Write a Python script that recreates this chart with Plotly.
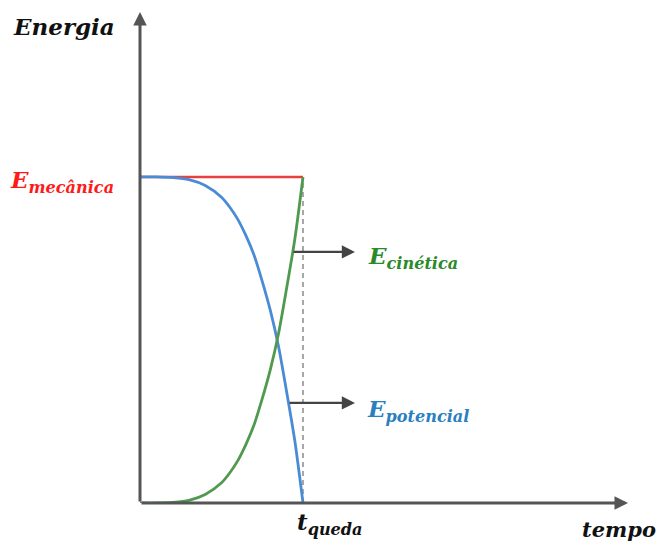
import plotly.graph_objects as go

# time, normalised so that t_queda = 1
t = [0.0, 0.1, 0.2, 0.3, 0.4, 0.5, 0.55, 0.6, 0.65, 0.7, 0.75, 0.8, 0.85, 0.9, 0.95, 1.0]
# kinetic energy (fraction of mechanical energy)
e_kin = [0.0, 0.0, 0.002, 0.008, 0.026, 0.062, 0.092, 0.13, 0.18, 0.24, 0.32, 0.41, 0.52, 0.66, 0.81, 1.0]
# potential energy
e_pot = [1.0, 1.0, 0.998, 0.992, 0.974, 0.938, 0.908, 0.87, 0.82, 0.76, 0.68, 0.59, 0.48, 0.34, 0.19, 0.0]
# mechanical energy
t_mec = [0.0, 1.0]
e_mec = [1.0, 1.0]

x_max = 2.994
y_max = 1.506

RED = "#e8403f"
BLUE = "#4a8bd6"
GREEN = "#4f9a4f"
AXIS = "#555555"
FONT = "DejaVu Serif"

fig = go.Figure()
# dashed vertical line at t_queda
fig.add_trace(go.Scatter(x=[1.0, 1.0], y=[0.0, 1.0], mode="lines",
                         line=dict(color="#777777", width=1.3, dash="5px,4px"),
                         hoverinfo="skip"))
fig.add_trace(go.Scatter(x=t_mec, y=e_mec, mode="lines",
                         line=dict(color=RED, width=2.5), hoverinfo="skip"))
fig.add_trace(go.Scatter(x=t, y=e_pot, mode="lines", line_shape="spline",
                         line=dict(color=BLUE, width=2.8, smoothing=0.8), hoverinfo="skip"))
fig.add_trace(go.Scatter(x=t, y=e_kin, mode="lines", line_shape="spline",
                         line=dict(color=GREEN, width=2.8, smoothing=0.8), hoverinfo="skip"))

ann = []
# axes with arrows
ann.append(dict(x=0, y=y_max, ax=0, ay=0, xref="x", yref="y", axref="x", ayref="y",
                showarrow=True, arrowhead=2, arrowsize=0.9, arrowwidth=3, arrowcolor=AXIS, text=""))
ann.append(dict(x=x_max, y=0, ax=0, ay=0, xref="x", yref="y", axref="x", ayref="y",
                showarrow=True, arrowhead=2, arrowsize=0.9, arrowwidth=3, arrowcolor=AXIS, text=""))
# pointer arrows
ann.append(dict(x=1.319, y=0.770, ax=0.933, ay=0.770, xref="x", yref="y", axref="x", ayref="y",
                showarrow=True, arrowhead=2, arrowsize=1.2, arrowwidth=2.2, arrowcolor="#444444", text=""))
ann.append(dict(x=1.319, y=0.307, ax=0.908, ay=0.307, xref="x", yref="y", axref="x", ayref="y",
                showarrow=True, arrowhead=2, arrowsize=1.2, arrowwidth=2.2, arrowcolor="#444444", text=""))

def lab(x, y, text, color, size, xanchor="left"):
    # positions given in data units, placed in paper coordinates so that
    # labels outside the axis ranges are still drawn
    ann.append(dict(x=x / x_max, y=y / y_max, xref="paper", yref="paper", text=text,
                    showarrow=False, xanchor=xanchor, yanchor="middle",
                    font=dict(family=FONT, size=size, color=color)))

lab(-0.790, 1.462, "<b><i>Energia</i></b>", "#111111", 23)
lab(-0.810, 0.985, "<b><i>E<sub>mecânica</sub></i></b>", "#ff1a1a", 23)
lab(1.385, 0.752, "<b><i>E<sub>cinética</sub></i></b>", "#2a8a2a", 23)
lab(1.380, 0.285, "<b><i>E<sub>potencial</sub></i></b>", "#2a7fbf", 23)
lab(0.950, -0.062, "<b><i>t<sub>queda</sub></i></b>", "#111111", 23)
lab(2.700, -0.080, "<b><i>tempo</i></b>", "#111111", 21)

fig.update_layout(
    width=669, height=541,
    # the page body adds 8px on the top/left; compensate so the plot area
    # lands where the reference has it
    margin=dict(l=132, r=49, t=4, b=46),
    plot_bgcolor="white", paper_bgcolor="white",
    showlegend=False,
    annotations=ann,
    xaxis=dict(range=[0, x_max], visible=False, fixedrange=True),
    yaxis=dict(range=[0, y_max], visible=False, fixedrange=True),
)

fig.write_html("out.html")
